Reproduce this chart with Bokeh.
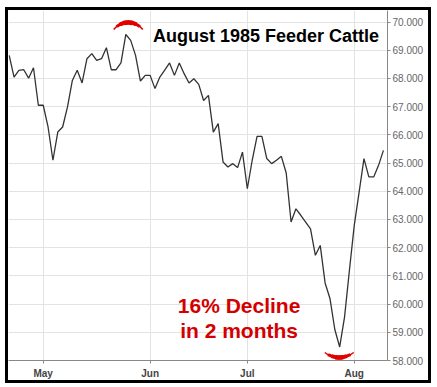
import numpy as np
from bokeh.plotting import figure
from bokeh.models import Range1d, LinearAxis, FixedTicker, Label
from bokeh.embed import file_html
from bokeh.resources import INLINE

# Trading days (Apr 22 - Aug 9, 1985)
dates = (
    ["1985-04-22", "1985-04-23", "1985-04-24", "1985-04-25", "1985-04-26", "1985-04-29", "1985-04-30"]
    + ["1985-05-01", "1985-05-02", "1985-05-03", "1985-05-06", "1985-05-07", "1985-05-08", "1985-05-09",
       "1985-05-10", "1985-05-13", "1985-05-14", "1985-05-15", "1985-05-16", "1985-05-17", "1985-05-20",
       "1985-05-21", "1985-05-22", "1985-05-23", "1985-05-24", "1985-05-28", "1985-05-29", "1985-05-30",
       "1985-05-31"]
    + ["1985-06-03", "1985-06-04", "1985-06-05", "1985-06-06", "1985-06-07", "1985-06-10", "1985-06-11",
       "1985-06-12", "1985-06-13", "1985-06-14", "1985-06-17", "1985-06-18", "1985-06-19", "1985-06-20",
       "1985-06-21", "1985-06-24", "1985-06-25", "1985-06-26", "1985-06-27", "1985-06-28"]
    + ["1985-07-01", "1985-07-02", "1985-07-03", "1985-07-05", "1985-07-08", "1985-07-09", "1985-07-10",
       "1985-07-11", "1985-07-12", "1985-07-15", "1985-07-16", "1985-07-17", "1985-07-18", "1985-07-19",
       "1985-07-22", "1985-07-23", "1985-07-24", "1985-07-25", "1985-07-26", "1985-07-29", "1985-07-30",
       "1985-07-31"]
    + ["1985-08-01", "1985-08-02", "1985-08-05", "1985-08-06", "1985-08-07", "1985-08-08", "1985-08-09"]
)

prices = [
    68.82, 68.05, 68.29, 68.31, 68.01, 68.38, 67.05,
    67.05, 66.28, 65.10, 66.10, 66.28, 66.99, 67.93, 68.29, 67.84, 68.70, 68.88, 68.64, 68.70,
    69.09, 68.31, 68.31, 68.55, 69.56, 69.35, 68.82, 67.91, 68.11,
    68.11, 67.64, 68.05, 68.30, 68.55, 68.11, 68.55, 68.17, 67.84, 67.99, 67.79, 67.22, 67.40,
    66.10, 66.40, 65.04, 64.86, 64.98, 64.84, 65.39,
    64.09, 65.10, 65.95, 65.95, 65.16, 64.98, 65.10, 65.24, 64.65, 62.91, 63.38, 63.15, 62.91,
    62.67, 61.73, 62.08, 60.75, 60.20, 59.10, 58.48, 59.54, 61.19,
    62.79, 63.97, 65.16, 64.51, 64.51, 64.92, 65.45,
]

month_labels = ["May", "Jun", "Jul", "Aug"]
y_ticks = [58, 59, 60, 61, 62, 63, 64, 65, 66, 67, 68, 69, 70]

title_text = "August 1985 Feeder Cattle"
note_lines = ["16% Decline", "in 2 months"]

idx = list(range(len(dates)))
month_starts = []
seen = set()
for i, d in enumerate(dates):
    m = d[:7]
    if m not in seen:
        seen.add(m)
        if m != "1985-04":
            month_starts.append(i)

p = figure(width=426, height=376, output_backend="svg", toolbar_location=None,
           x_range=Range1d(-0.14, len(dates) - 1 + 0.84), y_range=Range1d(58.0, 70.41),
           y_axis_location=None, min_border_left=0, min_border_top=0,
           min_border_right=47, min_border_bottom=26)
p.styles = {"border": "3px solid black", "margin": "7px 0px 0px 5px"}
p.outline_line_color = None
p.background_fill_color = "white"
p.border_fill_color = "white"

p.xaxis.ticker = FixedTicker(ticks=month_starts)
p.xaxis.major_label_overrides = {i: lab for i, lab in zip(month_starts, month_labels)}
p.xaxis.major_label_text_font = "Liberation Sans"
p.xaxis.major_label_text_font_style = "bold"
p.xaxis.major_label_text_font_size = "10px"
p.xaxis.major_label_text_color = "#444444"
p.xaxis.axis_line_color = "#888888"
p.xaxis.major_tick_line_color = "#888888"
p.xaxis.major_tick_out = 3
p.xaxis.major_tick_in = 0
p.xaxis.minor_tick_line_color = None
p.xaxis.major_label_standoff = 4

yax = LinearAxis(ticker=FixedTicker(ticks=y_ticks))
yax.major_label_overrides = {t: f"{t:.3f}" for t in y_ticks}
yax.major_label_text_font = "Liberation Sans"
yax.major_label_text_font_size = "10px"
yax.major_label_text_color = "#666666"
yax.axis_line_color = "#888888"
yax.major_tick_line_color = "#888888"
yax.major_tick_out = 3
yax.major_tick_in = 0
yax.minor_tick_line_color = None
yax.major_label_standoff = 2
p.add_layout(yax, "right")

p.xgrid.ticker = FixedTicker(ticks=month_starts)
p.ygrid.ticker = FixedTicker(ticks=y_ticks)
p.xgrid.grid_line_color = "#e3e3e3"
p.ygrid.grid_line_color = "#e3e3e3"

p.line(idx, prices, line_color="#333333", line_width=1.3)

ipk = int(np.argmax(prices))
itr = int(np.argmin(prices))
red = "#e00000"
for span, w in [(1.0, 1.5), (0.75, 3), (0.5, 4), (0.25, 4.5)]:
    a = np.radians(52) * span
    p.arc(x=[ipk + 0.5], y=[prices[ipk] - 0.23], radius=18.5, radius_units="screen",
          start_angle=np.pi / 2 - a, end_angle=np.pi / 2 + a,
          line_color=red, line_width=w)
    b = np.radians(38) * span
    p.arc(x=[itr - 0.1], y=[prices[itr] + 0.46], radius=23.5, radius_units="screen",
          start_angle=3 * np.pi / 2 - b, end_angle=3 * np.pi / 2 + b,
          line_color=red, line_width=w)

p.add_layout(Label(x=ipk + 5.6, y=prices[ipk] - 0.04, text=title_text,
                   text_font="Liberation Sans", text_font_style="bold",
                   text_font_size="18px", text_color="black",
                   text_baseline="middle", text_align="left"))

cx = (month_starts[2] - 1.7)
p.add_layout(Label(x=cx, y=59.95, text=note_lines[0], text_font="Liberation Sans",
                   text_font_style="bold", text_font_size="21px", text_color="#d40000",
                   text_baseline="alphabetic", text_align="center"))
p.add_layout(Label(x=cx, y=59.08, text=note_lines[1], text_font="Liberation Sans",
                   text_font_style="bold", text_font_size="21px", text_color="#d40000",
                   text_baseline="alphabetic", text_align="center"))

open("out.html", "w").write(file_html(p, INLINE))
